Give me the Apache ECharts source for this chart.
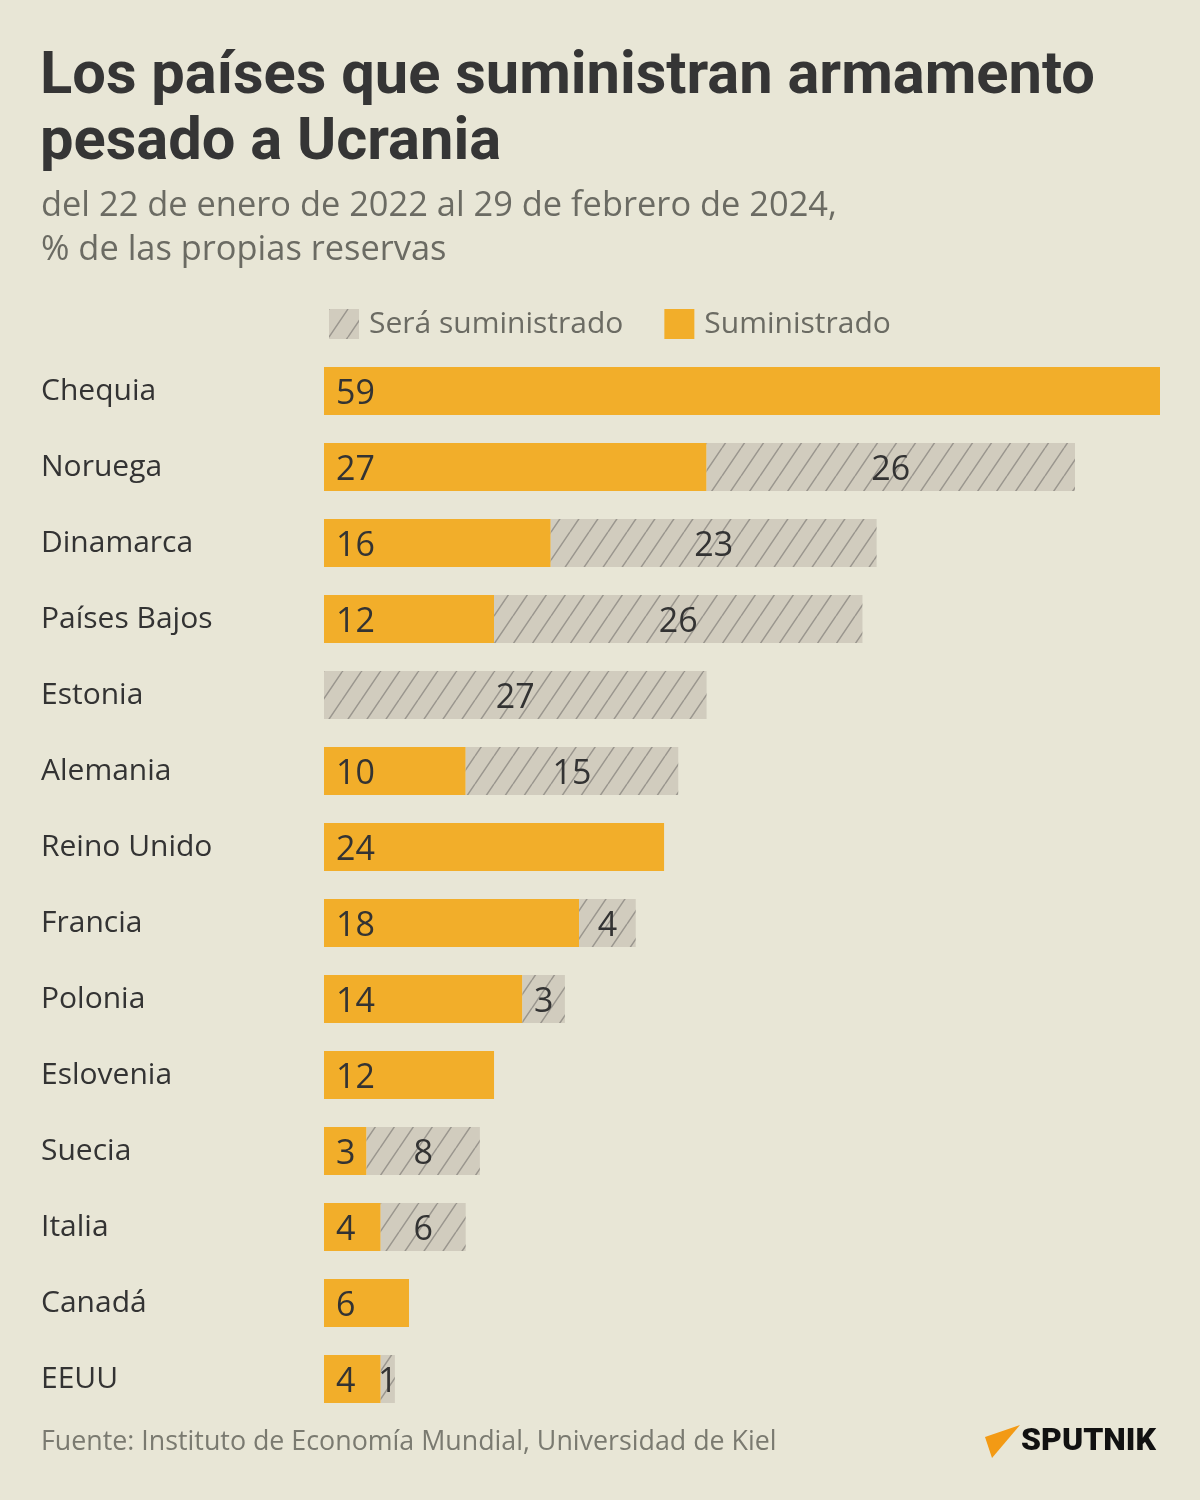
<!DOCTYPE html>
<html><head><meta charset="utf-8">
<script src="https://cdn.jsdelivr.net/npm/echarts@6/dist/echarts.min.js"></script>
<style>html,body{margin:0;padding:0;background:#E8E6D6;}#c{width:1200px;height:1500px;}</style>
</head><body><div id="c"></div>
<script>
const countries = ['Chequia','Noruega','Dinamarca','Países Bajos','Estonia','Alemania','Reino Unido','Francia','Polonia','Eslovenia','Suecia','Italia','Canadá','EEUU'];
const supplied = [59,27,16,12,0,10,24,18,14,12,3,4,6,4];
const pledged  = [0,26,23,26,27,15,0,4,3,0,8,6,0,1];

const FONT = '"Open Sans"';
// hatch pattern
const pc = document.createElement('canvas');
pc.width = 19; pc.height = 28;
const px = pc.getContext('2d');
px.fillStyle = '#D1CCBE'; px.fillRect(0,0,19,28);
px.strokeStyle = '#9A968E'; px.lineWidth = 1.5;
px.beginPath();
for (let k=-1;k<=1;k++){ px.moveTo(k*19, 28); px.lineTo(k*19+19, 0); }
px.stroke();
const hatch = {image: pc, repeat: 'repeat'};

const chart = echarts.init(document.getElementById('c'), null, {renderer:'canvas'});
chart.setOption({
  backgroundColor: '#E8E6D6',
  animation: false,
  grid: {left: 324, right: 40, top: 353, height: 1064},
  xAxis: {type:'value', min:0, max:59, show:false},
  yAxis: {type:'category', data: countries, inverse:true,
    axisLine:{show:false}, axisTick:{show:false},
    axisLabel:{align:'left', margin:283, fontSize:30, color:'#333333', fontFamily:FONT, lineHeight:36, padding:[6,0,0,0]}},
  legend: {left: 324, top: 304, itemWidth:30, itemHeight:30, itemGap:41, icon:'rect',
    data:['Será suministrado','Suministrado'],
    textStyle:{fontSize:30, color:'#6B6B63', fontFamily:FONT, padding:[0,0,2,5]}},
  series: [
    {name:'Suministrado', type:'bar', stack:'a', data: supplied, barWidth:48,
     itemStyle:{color:'#F2AE2A'},
     label:{show:true, position:'insideLeft', distance:12, offset:[0,3], fontSize:34, color:'#333333', fontFamily:FONT,
       formatter: p => p.value ? String(p.value) : ''}},
    {name:'Será suministrado', type:'bar', stack:'a', data: pledged, barWidth:48,
     itemStyle:{color: hatch},
     label:{show:true, position:'inside', offset:[0,3], fontSize:34, color:'#333333', fontFamily:FONT,
       formatter: p => p.value ? String(p.value) : ''}}
  ],
  graphic: [
    {type:'text', left:40, top:45, style:{text:'Los países que suministran armamento\npesado a Ucrania', font:'bold 59.6px Roboto', fill:'#353535', lineHeight:66}},
    {type:'text', left:41, top:184, style:{text:'del 22 de enero de 2022 al 29 de febrero de 2024,\n% de las propias reservas', font:'34.4px "Open Sans"', fill:'#6B6B63', lineHeight:44}},
    {type:'text', left:41, top:1429, style:{text:'Fuente: Instituto de Economía Mundial, Universidad de Kiel', font:'26.8px "Open Sans"', fill:'#7A7A70'}},
    {type:'polygon', shape:{points:[[985,1437],[1020,1425],[992,1458]]}, style:{fill:'#F39A14'}},
    {type:'text', left:1021, top:1426, style:{text:'SPUTNIK', font:'900 32px Roboto', fill:'#111111'}}
  ]
});
</script></body></html>
